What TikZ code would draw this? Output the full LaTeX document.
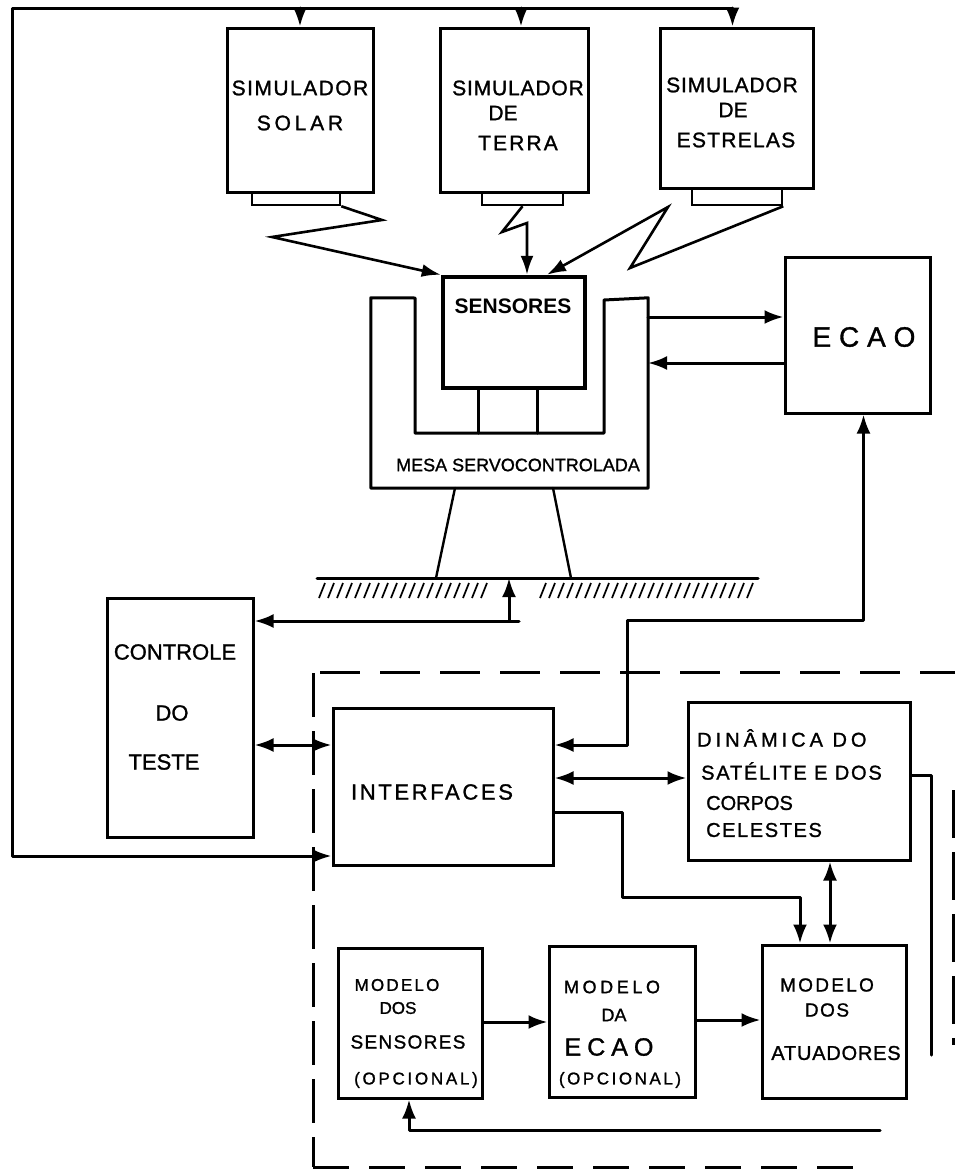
\documentclass[tikz,border=0pt]{standalone}
\usepackage{fontspec}
\setmainfont{Liberation Sans}
\usetikzlibrary{arrows.meta,fit,calc}
\newcommand{\lettering}[2]{\fontsize{#1}{#1}\selectfont\addfontfeatures{LetterSpace=#2,FakeBold=1.2}}
\begin{document}
\begin{tikzpicture}[x=1pt,y=-1pt,
  blk/.style={draw, line width=3pt, inner sep=0pt},
  lipbox/.style={draw, line width=2.5pt, inner sep=0pt},
  wire/.style={line width=3pt, line cap=round, line join=round},
  arr/.style={wire, -{Latex[length=19pt,width=14pt]}},
  dbl/.style={wire, {Latex[length=19pt,width=14pt]}-{Latex[length=19pt,width=14pt]}},
  ray/.style={line width=2.6pt, line join=miter, -{Latex[length=19pt,width=13pt]}},
  lbl/.style={inner sep=0pt, font=\lettering{#1}{0}},
  lbl/.default=21,
  lsp/.style 2 args={inner sep=0pt, font=\lettering{#1}{#2}},
  subsys/.style={line width=3pt, dash pattern=on 40pt off 20pt},
]
\useasboundingbox (0,0) rectangle (955,1170);

% ---------- simulators ----------
\node[blk, fit={(227,28)(373,192)}] (solar) {};
\node[lipbox, fit={(252,192)(340,205)}] (solarlip) {};
\node[blk, fit={(440,28)(588,192)}] (terra) {};
\node[lipbox, fit={(482,192)(563,205)}] (terralip) {};
\node[blk, fit={(660,28)(813,188)}] (estr) {};
\node[lipbox, fit={(692,188)(782,205)}] (estrlip) {};

\node[lsp={21}{7}] (t1) at (300,88) {SIMULADOR};
\node[lsp={21}{18}] (t2) at (300,123) {SOLAR};
\node[lsp={21}{4}] (t3) at (518,88) {SIMULADOR};
\node[lbl] (t4) at (503,113) {DE};
\node[lsp={21}{10}] (t5) at (518,143) {TERRA};
\node[lsp={21}{4}] (t6) at (732,85) {SIMULADOR};
\node[lbl] (t7) at (733,110) {DE};
\node[lsp={21}{6}] (t8) at (736,140) {ESTRELAS};

% ---------- sensors on the servo table ----------
\node[draw, line width=4.5pt, inner sep=0pt, fit={(443,277)(585,388)}] (sens) {};
\node[inner sep=0pt, font=\fontsize{21}{21}\selectfont\bfseries] (t9) at (513,306) {SENSORES};

\node[inner sep=0pt, fit={(371,298)(648,488)}] (mesa) {};
\draw[wire] (mesa.north west) -- (415,298) -- (415,433) -- (604,433) -- (604,300)
  -- (mesa.north east) -- (mesa.south east) -- (mesa.south west) -- cycle;
\draw[wire] (478,388) -- (478,433);
\draw[wire] (537,388) -- (537,433);
\node[lbl=18] (t10) at (518,465) {MESA SERVOCONTROLADA};

% legs and ground
\coordinate (gl) at (317,578);
\coordinate (gr) at (758,578);
\draw[wire] (gl) -- (gr);
\draw[wire, line width=2.4pt] (455,488) -- (436,578);
\draw[wire, line width=2.4pt] (553,488) -- (571,578);
\foreach \x in {323,332,...,485} \draw[line width=1.7pt] (\x-4,598) -- (\x+2,583);
\foreach \x in {544,553,...,755} \draw[line width=1.7pt] (\x-4,598) -- (\x+2,583);

% ---------- ECAO ----------
\node[blk, fit={(785,257)(930,413)}] (ecao) {};
\node[lsp={28}{28}] (t11) at (864,337) {ECAO};

% ---------- test control ----------
\node[blk, fit={(107,598)(253,837)}] (ctl) {};
\node[lbl=22] (t12) at (175,652) {CONTROLE};
\node[lbl=22] (t13) at (172,713) {DO};
\node[lbl=22] (t14) at (164,762) {TESTE};

% ---------- simulation subsystem ----------
\node[blk, fit={(333,708)(553,865)}] (ifc) {};
\node[lsp={22}{12}] (t15) at (432,792) {INTERFACES};

\node[blk, fit={(688,702)(910,860)}] (din) {};
\node[lsp={20}{20}, anchor=west] (t16) at (697,738) {DINÂMICA DO};
\node[lsp={20}{9}, anchor=west] (t17) at (701,771) {SATÉLITE E DOS};
\node[lbl=20, anchor=west] (t18) at (706,803) {CORPOS};
\node[lsp={20}{8}, anchor=west] (t19) at (706,830) {CELESTES};

\node[blk, fit={(338,948)(482,1098)}] (ms) {};
\node[lsp={17}{13}] (t20) at (397,985) {MODELO};
\node[lbl=17] (t21) at (398,1008) {DOS};
\node[lsp={19}{7}] (t22) at (408,1042) {SENSORES};
\node[lsp={17}{16}] (t23) at (416,1080) {(OPCIONAL)};

\node[blk, fit={(549,946)(695,1097)}] (me) {};
\node[lsp={18}{20}] (t24) at (612,987) {MODELO};
\node[lbl=18] (t25) at (614,1015) {DA};
\node[lsp={25}{24}] (t26) at (609,1047) {ECAO};
\node[lsp={17}{15}] (t27) at (620,1080) {(OPCIONAL)};

\node[blk, fit={(762,945)(906,1098)}] (ma) {};
\node[lsp={19}{12}] (t28) at (827,985) {MODELO};
\node[lsp={19}{8}] (t29) at (827,1010) {DOS};
\node[lsp={20}{4}] (t30) at (836,1053) {ATUADORES};

% dashed subsystem boundary
\draw[subsys] (320,672) -- (955,672);
\draw[subsys, dash pattern=on 44pt off 14pt] (313,673) -- (313,1167);
\draw[subsys, dash pattern=on 36pt off 20pt] (313,1167) -- (855,1167);
\draw[subsys, dash pattern=on 48pt off 14pt] (953,790) -- (953,1045);

% ---------- connectors ----------
% command bus from the left loop to the three simulators
\coordinate (tl) at (12,8);
\coordinate (bl) at (12,856);
\coordinate (ta) at ([xshift=7pt]terra.north);
\coordinate (ea) at ([xshift=-4pt]estr.north);
\draw[arr] (ea |- tl) -- (tl) -- (bl) -- (bl -| ifc.west);
\draw[arr] (ea |- tl) -- (ea);
\draw[arr] (solar.north |- tl) -- (solar.north);
\draw[arr] (ta |- tl) -- (ta);

% radiation from the simulators to the sensors
\draw[ray] (solarlip.south east) -- (382,220) -- (272,237) -- (sens.north west);
\draw[ray] (terralip.south) -- (502,232) -- (527,223) -- ([xshift=13pt]sens.north);
\draw[ray] (estrlip.south east) -- (630,268) -- (668,207) -- ([xshift=33pt]sens.north);

% table <-> ECAO
\coordinate (m1) at (648,317);
\coordinate (m2) at (648,363);
\draw[arr] (m1) -- (m1 -| ecao.west);
\draw[arr] (m2 -| ecao.west) -- (m2);

% ground reference and test control
\coordinate (gj) at (509,621);
\coordinate (cj) at (519,621);
\draw[arr] (gj) -- (gj |- gl);
\draw[arr] (cj) -- (cj -| ctl.east);

% ECAO <-> interfaces
\coordinate (ej) at ([xshift=6pt]ecao.south |- 0,620);
\coordinate (ek) at (627,620);
\coordinate (ei) at (627,745);
\draw[dbl] (ei -| ifc.east) -- (ei) -- (ek) -- (ej) -- (ej |- ecao.south);

% interfaces links
\coordinate (ci) at (253,745);
\draw[dbl] (ci -| ctl.east) -- (ci -| ifc.west);
\coordinate (id) at (600,778);
\draw[dbl] (id -| ifc.east) -- (id -| din.west);
\coordinate (p1) at (622,812);
\coordinate (p2) at (622,897);
\coordinate (p3) at (800,897);
\draw[arr] (p1 -| ifc.east) -- (p1) -- (p2) -- (p3) -- (p3 |- ma.north);
\coordinate (dm) at (830,900);
\draw[dbl] (dm |- din.south) -- (dm |- ma.north);

% dynamics output line
\coordinate (rr) at (931,775);
\draw[wire] (rr -| din.east) -- (rr) -- (931,1055);

% model chain
\coordinate (s1) at (500,1022);
\coordinate (s2) at (700,1020);
\draw[arr] (s1 -| ms.east) -- (s1 -| me.west);
\draw[arr] (s2 -| me.east) -- (s2 -| ma.west);
\coordinate (f1) at (880,1130);
\coordinate (f2) at (409,1130);
\draw[arr] (f1) -- (f2) -- (f2 |- ms.south);
\end{tikzpicture}
\end{document}
